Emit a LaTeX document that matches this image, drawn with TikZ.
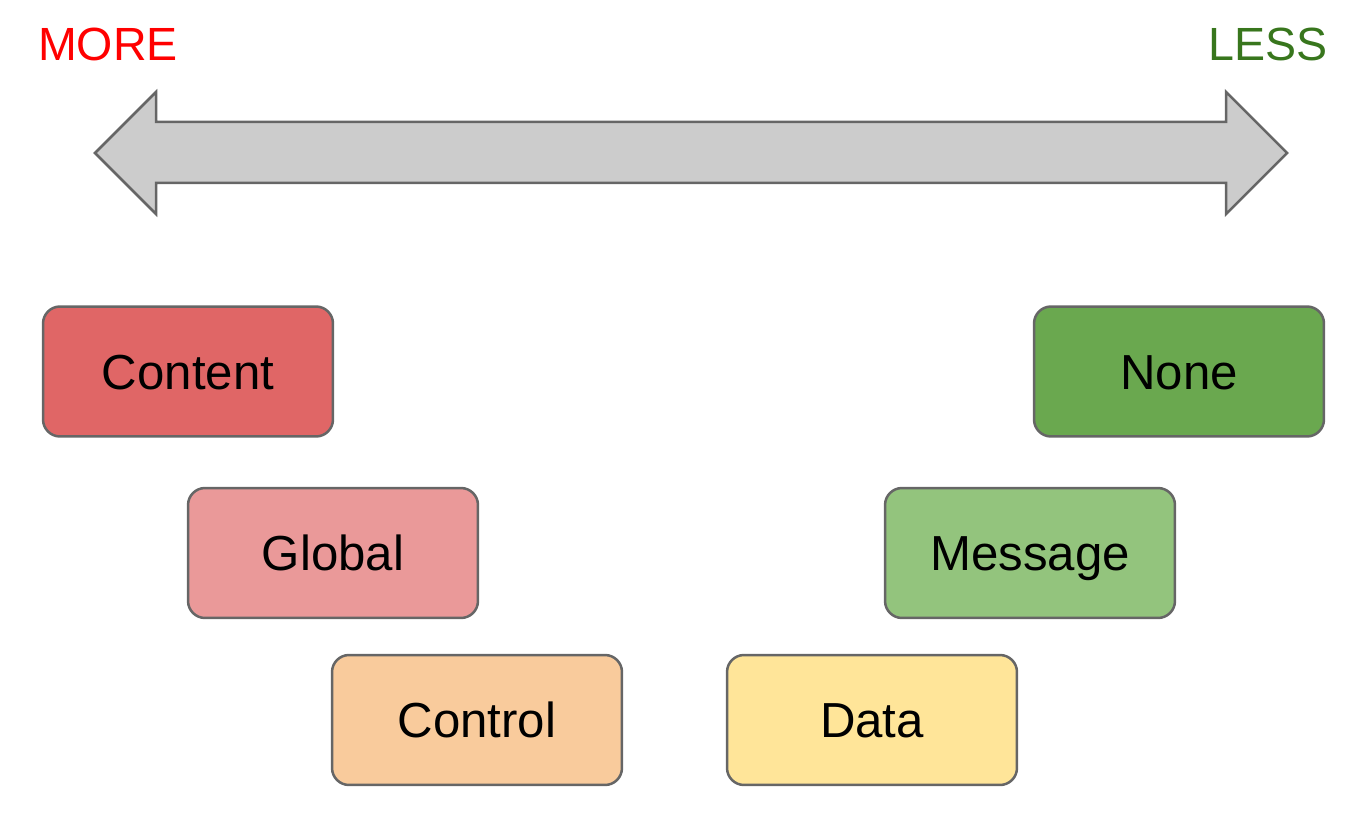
\documentclass[tikz,border=0pt]{standalone}
\usepackage{fontspec}
\setmainfont{Liberation Sans}
\usetikzlibrary{positioning}
\definecolor{boxline}{HTML}{666666}
\definecolor{arrowfill}{HTML}{CCCCCC}
\definecolor{contentred}{HTML}{E06666}
\definecolor{globalred}{HTML}{EA9999}
\definecolor{controlorange}{HTML}{F9CB9C}
\definecolor{datayellow}{HTML}{FFE599}
\definecolor{messagegreen}{HTML}{93C47D}
\definecolor{nonegreen}{HTML}{6AA84F}
\definecolor{morered}{HTML}{FF0000}
\definecolor{lessgreen}{HTML}{38761D}
\tikzset{
	level/.style={draw=boxline, line width=0.05cm, rounded corners=0.34cm, minimum width=5.8cm, minimum height=2.6cm, font=\fontsize{28}{34}\selectfont, inner sep=0pt, text height=20.4pt, text depth=0pt},
	endlabel/.style={font=\fontsize{26.5}{32}\selectfont, inner sep=0pt, text height=19pt, text depth=0pt}
}

\begin{document}
\begin{tikzpicture}[x=0.02cm, y=-0.02cm]
			%%%%% START %%%%%
			
			\useasboundingbox (0, 0) rectangle (1368, 814);
			
			\draw[fill=arrowfill, draw=boxline, line width=0.05cm, line join=miter] (95, 153) -- (156, 92) -- (156, 122) -- (1226, 122) -- (1226, 92) -- (1287, 153) -- (1226, 214) -- (1226, 183) -- (156, 183) -- (156, 214) -- cycle;
			
			\node[endlabel, color=morered] (more) at (108, 44) {MORE};
			\node[endlabel, color=lessgreen] (less) at (1268, 44) {LESS};
			
			\node[level, fill=contentred] (content) at (188, 371.5) {Content};
			\node[level, fill=globalred] (global) at (333, 553) {Global};
			\node[level, fill=controlorange] (control) at (477, 720) {Control};
			
			\node[level, fill=datayellow] (data) at (872, 720) {Data};
			\node[level, fill=messagegreen] (message) at (1030, 553) {Message};
			\node[level, fill=nonegreen] (none) at (1179, 371.5) {None};
			
			%%%%% END %%%%%
\end{tikzpicture}
\end{document}
